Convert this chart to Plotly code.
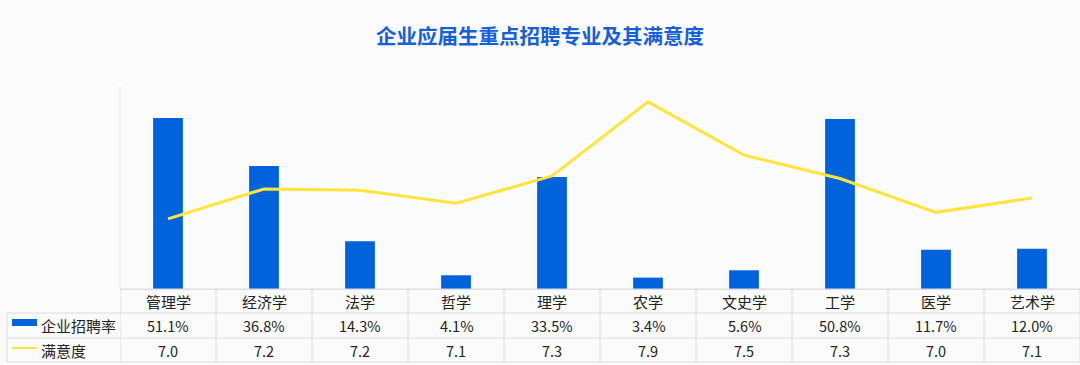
import plotly.graph_objects as go

categories = ["管理学", "经济学", "法学", "哲学", "理学", "农学", "文史学", "工学", "医学", "艺术学"]
recruit_rate = [51.1, 36.8, 14.3, 4.1, 33.5, 3.4, 5.6, 50.8, 11.7, 12.0]
satisfaction = [6.97, 7.20, 7.19, 7.09, 7.30, 7.87, 7.46, 7.28, 7.02, 7.13]
series_names = ["企业招聘率", "满意度"]
title_text = "企业应届生重点招聘专业及其满意度"

BLUE = "#0063DC"
YELLOW = "#FFE53B"
GRID = "#DCDCDC"
FONT = "Noto Sans CJK SC"

W, H = 1080, 365
ML, MR, MT, MB = 120, 0, 85, 76
PH = H - MT - MB

def py(pix):
    # pixel y -> paper y
    return (H - MB - pix) / PH

def px(pix):
    return (pix - ML) / (W - ML - MR)

fig = go.Figure()
fig.add_trace(go.Bar(x=categories, y=recruit_rate, name=series_names[0],
                     marker=dict(color=BLUE, line=dict(width=0)), width=0.31))
fig.add_trace(go.Scatter(x=categories, y=satisfaction, name=series_names[1], yaxis="y2",
                         mode="lines", line=dict(color=YELLOW, width=3)))

shapes = []
n = len(categories)
shapes.append(dict(type="line", xref="paper", yref="paper", x0=0, x1=1, y0=py(289), y1=py(289),
                   line=dict(color=GRID, width=1)))
for yy in (313, 338, 362):
    shapes.append(dict(type="line", xref="paper", yref="paper", x0=px(7), x1=1, y0=py(yy), y1=py(yy),
                       line=dict(color=GRID, width=1)))
shapes.append(dict(type="line", xref="paper", yref="paper", x0=px(7), x1=px(7), y0=py(313), y1=py(362),
                   line=dict(color=GRID, width=1)))
for i in range(n + 1):
    shapes.append(dict(type="line", xref="x", yref="paper", x0=i - 0.5, x1=i - 0.5,
                       y0=py(289), y1=py(362), line=dict(color=GRID, width=1)))
shapes.append(dict(type="line", xref="paper", yref="paper", x0=0, x1=0, y0=0, y1=1,
                   line=dict(color="#ECECEC", width=1)))
shapes.append(dict(type="rect", xref="paper", yref="paper", x0=px(12), x1=px(37), y0=py(326), y1=py(319),
                   fillcolor=BLUE, line=dict(width=0)))
shapes.append(dict(type="line", xref="paper", yref="paper", x0=px(12), x1=px(37), y0=py(348), y1=py(348),
                   line=dict(color=YELLOW, width=2)))

ann = []
fs = 14.5
for i, c in enumerate(categories):
    ann.append(dict(x=c, xref="x", y=py(301), yref="paper", text=c, showarrow=False,
                    font=dict(size=15, color="#222", family=FONT), xanchor="center", yanchor="middle"))
    ann.append(dict(x=c, xref="x", y=py(325.5), yref="paper", text=f"{recruit_rate[i]:.1f}%", showarrow=False,
                    font=dict(size=fs, color="#222", family=FONT), xanchor="center", yanchor="middle"))
    ann.append(dict(x=c, xref="x", y=py(350), yref="paper", text=f"{satisfaction[i]:.1f}", showarrow=False,
                    font=dict(size=fs, color="#222", family=FONT), xanchor="center", yanchor="middle"))
ann.append(dict(x=px(39), xref="paper", y=py(325.5), yref="paper", text=series_names[0], showarrow=False,
                font=dict(size=15, color="#222", family=FONT), xanchor="left", yanchor="middle"))
ann.append(dict(x=px(39), xref="paper", y=py(350), yref="paper", text=series_names[1], showarrow=False,
                font=dict(size=15, color="#222", family=FONT), xanchor="left", yanchor="middle"))

fig.update_layout(
    width=W, height=H,
    margin=dict(l=ML, r=MR, t=MT, b=MB),
    paper_bgcolor="#FBFBFB", plot_bgcolor="rgba(0,0,0,0)",
    title=dict(text=f"<b>{title_text}</b>", x=0.5, xanchor="center", y=1 - 37 / H, yanchor="middle",
               font=dict(size=20.5, color="#1560D8", family=FONT)),
    showlegend=False,
    xaxis=dict(showticklabels=False, showgrid=False, zeroline=False, showline=True,
               linecolor="#E2E2E2", ticks="", range=[-0.5, n - 0.5]),
    yaxis=dict(range=[0, 61], showgrid=False, zeroline=False, showticklabels=False, showline=False),
    yaxis2=dict(range=[6.43, 8.0], overlaying="y", side="right", showgrid=False, zeroline=False,
                showticklabels=False, showline=False),
    shapes=shapes, annotations=ann,
    font=dict(family=FONT),
)

fig.write_html("out.html", config={"displayModeBar": False},
               post_script="document.body.style.margin='0';document.body.style.overflow='hidden';")
